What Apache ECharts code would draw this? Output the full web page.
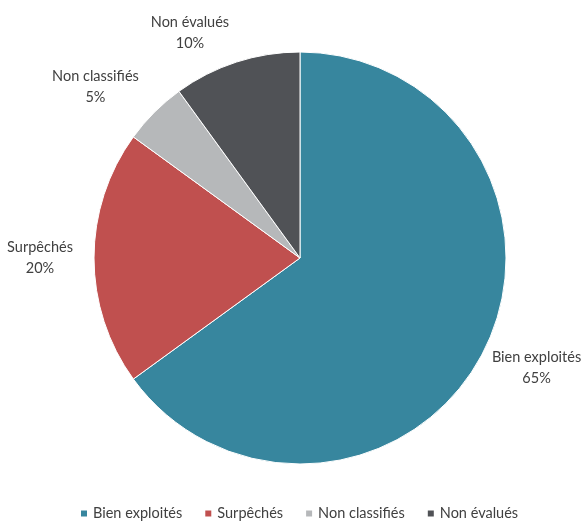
<!DOCTYPE html>
<html><head><meta charset="utf-8">
<script src="https://cdn.jsdelivr.net/npm/echarts@6/dist/echarts.min.js"></script>
<style>html,body{margin:0;padding:0;background:#fff}#c{width:587px;height:527px}</style>
</head><body><div id="c"></div>
<script>
const categories = ['Bien exploités', 'Surpêchés', 'Non classifiés', 'Non évalués'];
const values = [65, 20, 5, 10];
const colors = ['#37869E', '#C0504F', '#B6B8BA', '#505256'];

// layout
const CX = 300, CY = 258, R = 206;
const labelGap = [55, 54, 61, 45];
const labelAngleShift = [-2, 0, -5, -8];
const total = values.reduce((a, b) => a + b, 0);
let cum = 0;
const mids = values.map(v => { const m = cum + v / 2; cum += v; return m / total * 360; });
const FS = 14.5;

const chart = echarts.init(document.getElementById('c'));
chart.setOption({
  animation: false,
  color: colors,
  textStyle: { fontFamily: 'Lato' },
  legend: {
    bottom: 1, left: 74,
    icon: 'rect', itemWidth: 8, itemHeight: 8, itemGap: 21,
    textStyle: { fontFamily: 'Lato', fontSize: FS, color: '#404040' },
    data: categories
  },
  series: [{
    type: 'pie',
    center: [CX, CY], radius: R,
    startAngle: 90, clockwise: true,
    itemStyle: { borderColor: '#fff', borderWidth: 1 },
    labelLine: { show: false },
    label: {
      show: true, position: 'outside', overflow: 'none',
      formatter: '{n|{b}}\n{p|{d}%}',
      fontFamily: 'Lato', fontSize: FS, color: '#404040',
      rich: {
        n: { align: 'center', fontFamily: 'Lato', fontSize: FS, color: '#404040', lineHeight: 21 },
        p: { align: 'center', fontFamily: 'Lato', fontSize: FS, color: '#404040', lineHeight: 21 }
      }
    },
    labelLayout: function (p) {
      const i = p.dataIndex;
      const a = (mids[i] + labelAngleShift[i]) * Math.PI / 180;
      const d = R + labelGap[i];
      return { x: CX + d * Math.sin(a), y: CY - d * Math.cos(a), align: 'center', verticalAlign: 'middle' };
    },
    data: categories.map((c, i) => ({ name: c, value: values[i] }))
  }]
});
</script></body></html>
